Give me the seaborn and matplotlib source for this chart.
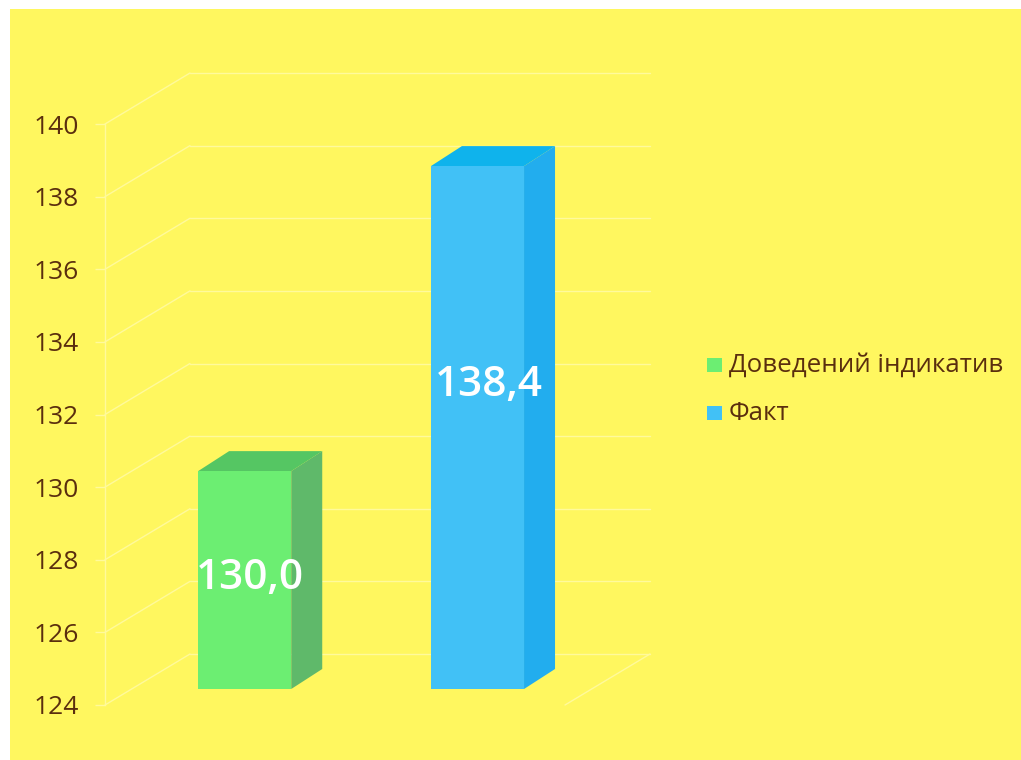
import matplotlib
matplotlib.use("Agg")
import matplotlib.pyplot as plt
import pandas as pd
import seaborn as sns
from matplotlib.patches import Polygon, Rectangle
from matplotlib.lines import Line2D
from matplotlib.transforms import Affine2D, IdentityTransform

series_names = ["Доведений індикатив", "Факт"]
series_values = [130.0, 138.4]
value_labels = ["130,0", "138,4"]
tick_values = [124, 126, 128, 130, 132, 134, 136, 138, 140]

W, H = 1021, 760
YELLOW = "#FFF75F"
GRID = "#FFFA9C"
TEXT = "#5A2E0E"
FRONT = ["#6CEE72", "#41C1F6"]
SIDE = ["#5FB96A", "#22ADEE"]
TOP = ["#55C663", "#0FB3EC"]

sns.set_theme(style="white")
plt.rcParams["font.family"] = ["Open Sans", "DejaVu Sans"]

fig = plt.figure(figsize=(W / 100, H / 100), dpi=100, facecolor="white")
fig.patches.append(Rectangle((10 / W, 0), 1 - 10 / W, 751 / H, transform=fig.transFigure,
                             facecolor=YELLOW, edgecolor="none", zorder=-10))
ax = fig.add_axes([105 / W, (H - 705) / H, 460 / W, 581 / H])
ax.patch.set_alpha(0)

df = pd.DataFrame({"name": series_names, "value": series_values})
sns.barplot(data=df, x="name", y="value", hue="name", palette=FRONT, width=0.4,
            dodge=False, legend=False, ax=ax, saturation=1, linewidth=0, edgecolor="none")
ax.set_ylim(124, 140)
ax.set_xlim(-0.6, 1.376)
ax.set_xlabel("")
ax.set_ylabel("")
ax.set_xticks([])
ax.set_yticks(tick_values)
ax.tick_params(axis="y", length=7, width=1, color=GRID, labelcolor=TEXT, labelsize=19, pad=12, left=True)
for s in ["top", "right", "bottom"]:
    ax.spines[s].set_visible(False)
ax.spines["left"].set_color(GRID)
ax.spines["left"].set_linewidth(1)

fig.canvas.draw()
back = ax.transData + Affine2D().translate(85, 51)
xl, xr = ax.get_xlim()
for v in tick_values:
    ax.plot([xl, xr], [v, v], color=GRID, lw=1, transform=back, clip_on=False, zorder=0.5)
    p0 = ax.transData.transform((xl, v))
    ax.add_line(Line2D([p0[0], p0[0] + 85], [p0[1], p0[1] + 51], color=GRID, lw=1,
                       transform=IdentityTransform(), clip_on=False, zorder=0.5))
p0 = ax.transData.transform((xr, 124))
ax.add_line(Line2D([p0[0], p0[0] + 85], [p0[1], p0[1] + 51], color=GRID, lw=1,
                   transform=IdentityTransform(), clip_on=False, zorder=0.5))

# Extruded bars: front face shifted onto the chart's middle plane, side and top in display space
raise_px, dx, dy = 16, 31, 20
shift = ax.transData + Affine2D().translate(0, raise_px)
for i, bar in enumerate(ax.patches):
    value = series_values[i]
    x0, x1 = bar.get_x(), bar.get_x() + bar.get_width()
    bar.set_y(124)
    bar.set_height(value - 124)
    bar.set_transform(shift)
    bar.set_clip_on(False)
    bar.set_zorder(3)
    bl = shift.transform((x0, 124))
    br = shift.transform((x1, 124))
    tl = shift.transform((x0, value))
    tr = shift.transform((x1, value))
    ax.add_patch(Polygon([br, tr, tr + (dx, dy), br + (dx, dy)], closed=True, facecolor=SIDE[i],
                         edgecolor="none", transform=IdentityTransform(), clip_on=False, zorder=2.9))
    ax.add_patch(Polygon([tl, tr, tr + (dx, dy), tl + (dx, dy)], closed=True, facecolor=TOP[i],
                         edgecolor="none", transform=IdentityTransform(), clip_on=False, zorder=2.9))

label_offsets = [(5, -107), (11, -219)]
for i, text in enumerate(value_labels):
    off = label_offsets[i]
    ax.annotate(text, xy=(i, series_values[i]), xycoords=shift,
                xytext=(off[0] * 0.72, off[1] * 0.72), textcoords="offset points",
                ha="center", va="center", color="white", fontsize=30.5, fontweight="semibold",
                zorder=5, annotation_clip=False)

for i, name in enumerate(series_names):
    y = [(H - 365), (H - 413)][i]
    fig.patches.append(Rectangle((707 / W, (y - 7) / H), 15 / W, 14 / H, transform=fig.transFigure,
                                 facecolor=FRONT[i], edgecolor="none", zorder=5))
    fig.text(729 / W, y / H, name, color=TEXT, fontsize=18.6, va="center", ha="left")

fig.savefig("out.png", dpi=100, facecolor="white")
